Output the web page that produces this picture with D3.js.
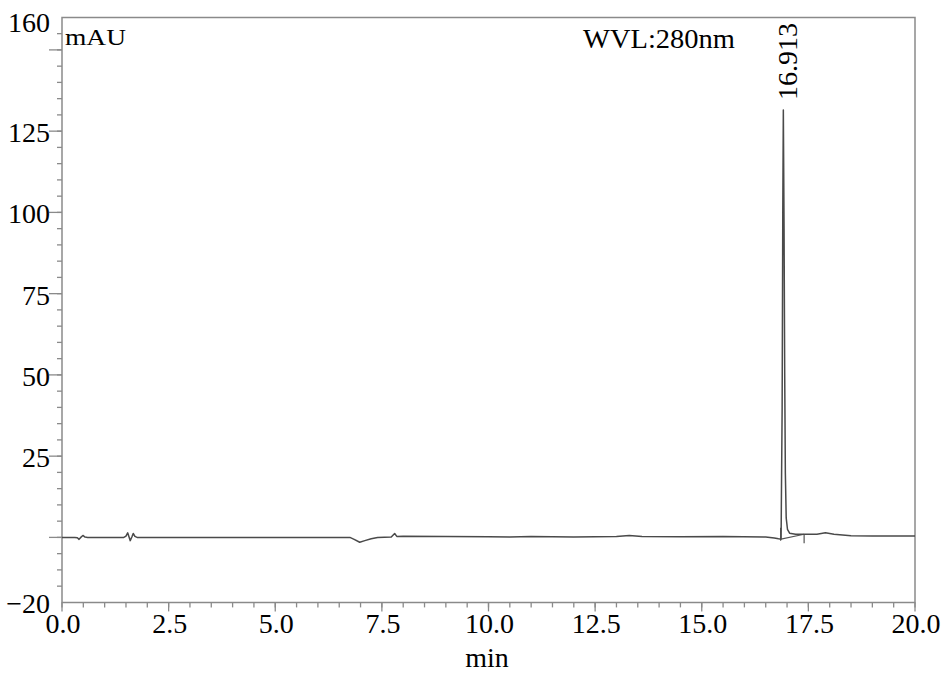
<!DOCTYPE html>
<html>
<head>
<meta charset="utf-8">
<script src="https://cdn.jsdelivr.net/npm/d3@7/dist/d3.min.js"></script>
</head>
<body style="margin:0">
<svg id="chart" width="945" height="681"></svg>
<script>
// ---- data ----
const traceTime = [0.00, 0.30, 0.36, 0.40, 0.44, 0.49, 0.54, 0.60,
  1.45, 1.50, 1.54, 1.57, 1.60, 1.64, 1.67, 1.71, 1.76,
  6.75, 6.85, 6.98, 7.10, 7.25, 7.40, 7.72, 7.80, 7.85, 8.00,
  9.00, 10.0, 10.5, 11.0, 11.5, 12.0, 12.5, 13.0, 13.3, 13.6, 14.5, 15.5, 16.5,
  16.70, 16.80, 16.86, 16.885, 16.90, 16.913, 16.93, 16.945, 16.96, 16.98, 17.01, 17.06,
  17.20, 17.40, 17.70, 17.90, 18.10, 18.50, 19.0, 20.0];
const traceMAU = [0, 0, -0.1, -0.6, 0, 0.6, 0.1, 0,
  0, 0.4, 1.4, 0.2, -1.0, 0.2, 1.2, 0.3, 0,
  0, -0.6, -1.5, -1.0, -0.4, 0, 0.1, 1.2, 0.3, 0.35,
  0.3, 0.2, 0.15, 0.25, 0.2, 0.15, 0.2, 0.3, 0.6, 0.3, 0.2, 0.3, 0.1,
  -0.2, -0.4, -0.5, 40, 100, 131.5, 95, 50, 20, 6, 2.5, 1.3,
  1.0, 1.0, 1.0, 1.4, 1.0, 0.5, 0.4, 0.4];

const peakTime = 16.913;
const peakLabel = "16.913";
const integTime = [16.83, 17.40];
const integMAU = [-0.6, 0.95];
const markerTime = [16.85, 17.40];
const markerTop = [3, 1.0];
const markerBottom = [-1, -1.8];

const xMajorTicks = [0, 2.5, 5, 7.5, 10, 12.5, 15, 17.5, 20];
const xTickLabels = ["0.0", "2.5", "5.0", "7.5", "10.0", "12.5", "15.0", "17.5", "20.0"];
const xMinorTicks = d3.range(0, 20.001, 0.5);
const yMajorTicks = [0, 25, 50, 75, 100, 125, 150];
const yMinorTicks = d3.range(-15, 156, 5);
const yLabelValues = [160, 125, 100, 75, 50, 25, -20];
const yTickLabels = ["160", "125", "100", "75", "50", "25", "\u221220"];

const unitLabel = "mAU";
const wavelengthLabel = "WVL:280nm";
const xTitle = "min";

// ---- layout ----
const FONT = "'Liberation Serif'";
const svg = d3.select("#chart");
const L = 62, R = 915, T = 17.4, B = 602.4;
const x = d3.scaleLinear().domain([0, 20]).range([L, R]);
const y = d3.scaleLinear().domain([-20, 160]).range([B, T]);
const axisColor = "#8a8a8a";

// frame
const g = svg.append("g");
g.append("path")
  .attr("d", `M${L},${T}H${R}V${B}H${L}Z`)
  .attr("fill", "none").attr("stroke", axisColor).attr("stroke-width", 1.5);

// y ticks
g.selectAll(".ymin").data(yMinorTicks).join("line")
  .attr("x1", L - 5).attr("x2", L)
  .attr("y1", d => y(d)).attr("y2", d => y(d))
  .attr("stroke", axisColor).attr("stroke-width", 1.3);
g.selectAll(".ymaj").data(yMajorTicks).join("line")
  .attr("x1", L - 13).attr("x2", L)
  .attr("y1", d => y(d)).attr("y2", d => y(d))
  .attr("stroke", axisColor).attr("stroke-width", 1.3);

// x ticks
g.selectAll(".xmin").data(xMinorTicks).join("line")
  .attr("x1", d => x(d)).attr("x2", d => x(d))
  .attr("y1", B).attr("y2", B + 5)
  .attr("stroke", axisColor).attr("stroke-width", 1.3);
g.selectAll(".xmaj").data(xMajorTicks).join("line")
  .attr("x1", d => x(d)).attr("x2", d => x(d))
  .attr("y1", B).attr("y2", B + 9)
  .attr("stroke", axisColor).attr("stroke-width", 1.3);

// y labels
svg.selectAll(".ylab").data(yLabelValues).join("text")
  .attr("class", "ylab")
  .style("font-family", FONT)
  .attr("x", 50)
  .attr("y", d => Math.max(y(d) + 11, 32))
  .attr("text-anchor", "end")
  .attr("font-size", 28)
  .text((d, i) => yTickLabels[i]);

// x labels
svg.selectAll(".xlab").data(xMajorTicks).join("text")
  .attr("class", "xlab")
  .style("font-family", FONT)
  .attr("x", d => x(d) + 1)
  .attr("y", 633)
  .attr("text-anchor", "middle")
  .attr("font-size", 28)
  .text((d, i) => xTickLabels[i]);

// titles
svg.append("text").style("font-family", FONT).attr("x", 487).attr("y", 667).attr("text-anchor", "middle")
  .attr("font-size", 28).text(xTitle);
svg.append("text").style("font-family", FONT).attr("x", 65).attr("y", 45).attr("font-size", 24)
  .attr("textLength", 61).attr("lengthAdjust", "spacingAndGlyphs").text(unitLabel);
svg.append("text").style("font-family", FONT).attr("x", 583).attr("y", 48).attr("font-size", 28)
  .attr("textLength", 152).attr("lengthAdjust", "spacingAndGlyphs").text(wavelengthLabel);

// integration baseline and markers
const lineGen = d3.line().x(d => x(d[0])).y(d => y(d[1]));
svg.append("path").datum(integTime.map((t, i) => [t, integMAU[i]]))
  .attr("d", lineGen).attr("fill", "none").attr("stroke", "#555").attr("stroke-width", 1.1);
svg.selectAll(".marker").data(markerTime).join("line")
  .attr("class", "marker")
  .attr("x1", d => x(d)).attr("x2", d => x(d))
  .attr("y1", (d, i) => y(markerTop[i])).attr("y2", (d, i) => y(markerBottom[i]))
  .attr("stroke", "#444").attr("stroke-width", 1.1);

// trace
svg.append("path").datum(traceTime.map((t, i) => [t, traceMAU[i]]))
  .attr("d", lineGen).attr("fill", "none")
  .attr("stroke", "#4a4a4a").attr("stroke-width", 1.5).attr("stroke-linejoin", "round");

// peak label
svg.append("text").style("font-family", FONT)
  .attr("transform", `translate(${x(peakTime) + 13.5},100) rotate(-90)`)
  .attr("font-size", 28).text(peakLabel);
</script>
</body>
</html>
